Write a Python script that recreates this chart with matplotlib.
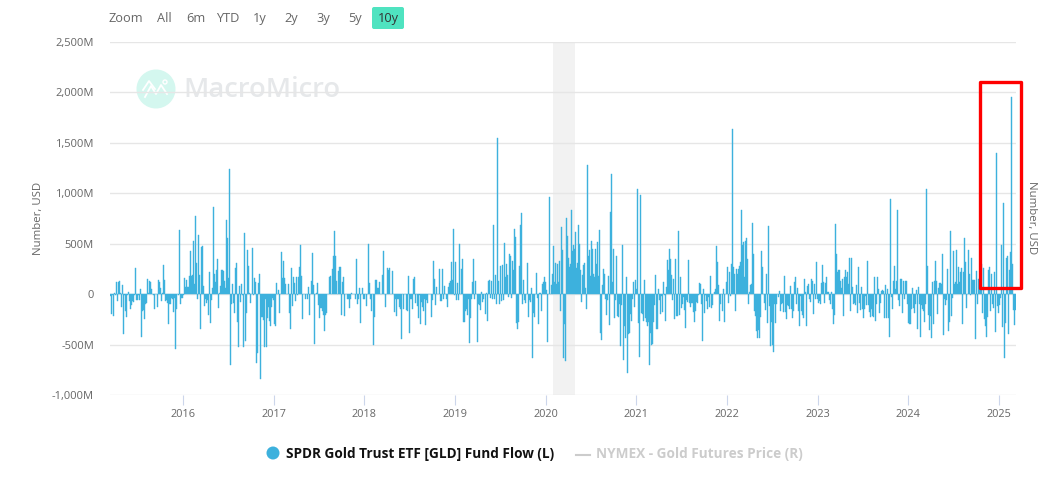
import numpy as np
import matplotlib
matplotlib.use('Agg')
import matplotlib.pyplot as plt
from matplotlib.patches import Circle, FancyBboxPatch, Rectangle

plt.rcParams['font.family'] = ['Open Sans', 'DejaVu Sans']

# fund flow in million USD, left to right (10 values per row)
flow_part1 = [-20, -200, -10, -220, 10, -5, 120, -70, 120, 130,
              10, -130, 90, -400, -10, -170, -230, -10, 20, -70,
              -150, -110, -70, -80, -10, 260, -60, -60, -10, -60,
              50, -420, -170, -160, -250, -100, -90, 150, 10, 130,
              120, 50, 5, -5, -150, 0, 0, -130, 140, 120,
              60, -70, 10, 290, 140, -70, -60, -90, -300, -100,
              -100, -40, -50, -180, -40, -540, -150, 5, -10, 640,
              -100, -40, -40, -10, 160, 70, 140, 70, 70, 180,
              430, 180, 190, 530, 100, 770, 310, -50, 590, 190,
              -350, 470, 480, 80, -120, -50, -90, -60, -210, 220,
              -290, -60, 60, 860, 200, 120, 240, 350, -140, 10,
              80, 240, 240, 230, 130, 60, 740, 560, 160, 1240,
              -700, -100, 100, -90, -190, 260, 310, -280, -520, 80]
flow_part2 = [-80, 100, -10, -520, 610, -460, -190, 440, 280, 10,
              -90, 0, 460, -10, 160, 120, -680, -580, 110, 200,
              -840, -230, -230, -260, -520, -50, -520, -240, -130, -270,
              -320, -130, -40, -60, -300, -320, 110, 0, 40, -190,
              0, 420, 160, 330, 160, 100, 0, 0, 100, -190,
              -350, 260, -120, 170, 110, -70, 170, -10, 170, 270,
              490, 180, -250, 0, 0, -50, 0, -50, 70, -210,
              0, 130, 410, 90, -490, 0, 10, 110, -110, -240,
              -140, -140, -170, -210, -370, -210, -190, 0, 0, 170,
              180, 0, 250, 380, 630, 380, 130, 0, 230, 270,
              270, -210, 120, 170, -220, 0, 0, -50, -50, -140,
              -50, 10, 0, 0, 0, -50, 350, -100, -50, 60,
              -290, 0, 60, -50, -50, 0, -120, 0, 500, 110]
flow_part3 = [-50, -170, 0, -500, -230, 140, 140, 60, 60, 120,
              0, 0, 190, 430, 0, -130, 0, 260, 240, 260,
              0, 0, 230, 0, -180, -50, -220, -50, -50, -130,
              -150, -440, 0, -150, 0, 0, -160, -170, 180, -390,
              -50, -50, -150, 150, 170, -90, 0, -120, -240, -10,
              -300, -80, -130, -170, -50, -310, -60, -90, 0, 5,
              0, -230, -60, 330, 150, -110, 70, 0, 0, 250,
              -70, -70, 250, -50, 80, 0, -50, -130, 70, 110,
              130, 320, 140, 650, -10, 320, -60, 110, -60, 500,
              0, 250, 350, -280, -280, -170, -150, -210, -50, -480,
              -240, -50, 120, 350, -50, 130, 0, -470, -100, -110,
              -160, 20, -80, -50, 0, -200, 10, -270, 130, 140,
              -40, 130, -50, 690, -50, 190, -100, 1550, 130, -100]
flow_part4 = [280, -70, 290, -60, 510, 170, 300, 190, -30, 400,
              375, -40, 330, 240, 650, 570, -290, -350, -280, 280,
              690, 800, -100, 140, -60, -90, 0, 310, -230, -60,
              -80, 60, -630, -190, -230, 0, 210, -40, -300, 10,
              10, -170, 100, 120, 170, 120, 40, -470, 0, 960,
              0, 90, 200, 480, 120, 310, 100, 300, 120, 330,
              -170, 670, 440, -630, -300, -660, 750, 580, 360, 270,
              300, 830, 430, 490, 450, 620, 260, 310, 690, 500,
              240, -80, 190, 290, 310, 60, -150, 1280, 380, 440,
              180, 530, 450, 200, 170, 450, 300, 520, 180, 640,
              -390, -450, 90, 250, 200, -50, -210, -60, 180, -310,
              810, 1190, 120, 450, -240, -60, 380, -220, -230, -100,
              -510, -110, 490, -650, -320, -430, 170, -780, -400, -390]
flow_part5 = [-200, -270, -50, 120, -130, 140, 50, 1040, -290, -620,
              980, -190, -200, -270, 140, -240, -280, -320, -280, -700,
              -390, -500, -490, -280, -110, 190, -350, -350, 50, -60,
              -200, -20, -180, 120, -10, -270, 70, 340, 240, 450,
              350, 190, -60, 150, -250, 350, -220, -220, 630, -210,
              170, -140, -100, -30, -160, -340, -60, -80, 340, -90,
              -130, -90, -90, -180, -280, -170, -80, -90, -10, 110,
              100, -100, -460, 50, -190, -10, -70, -150, -30, -130,
              180, -140, -110, 0, 20, 50, 480, 320, 90, -270,
              -100, 0, -170, 50, -280, 0, 120, 270, -90, 220,
              -20, 300, 1640, 270, 200, -170, 250, 200, 250, 280,
              320, 830, 490, 520, 170, 530, 560, 350, -100, 20,
              90, 100, 710, 400, -170, -220, -370, -430, -360, -430]
flow_part6 = [-230, 430, 270, 0, -90, -160, 200, -290, 680, -120,
              -510, -280, -500, -570, -100, -290, -100, 0, -30, 30,
              -170, -100, -90, -180, 180, -180, -250, -110, -120, -150,
              80, -150, -240, -170, 120, 170, -100, 60, -170, -320,
              -20, -170, -210, -240, 155, 20, -320, 80, 100, -50,
              -80, 150, 130, -200, 100, -50, 320, -50, -90, -70,
              -100, 110, 290, 120, -90, 110, 170, 20, 20, -60,
              -100, 20, -150, -300, -210, 700, 400, 220, 240, 240,
              130, 60, 150, -220, 170, 240, 170, 220, 100, 360,
              -170, 360, 70, -100, -90, -110, 90, -190, 270, -90,
              -160, 70, -150, -240, -150, -20, -110, 330, -110, -180,
              -230, -150, -220, -230, 170, -270, -100, 170, 50, -190,
              -90, 30, 40, 30, -240, 90, -240, 50, -240, -420]
flow_part7 = [940, -30, -150, 130, 280, 50, 130, 830, -60, -120,
              150, 150, -190, 130, -50, 130, 130, -100, -290, -300,
              -300, -150, 60, -140, -190, -100, 40, -350, 70, -100,
              -420, -110, -150, -170, -280, -100, 1040, 280, -210, -360,
              -220, -430, 120, -300, 130, 330, 130, -200, 60, 110,
              110, 100, 400, -410, -50, -110, -60, 250, -370, -280,
              630, -220, -40, 430, 100, 120, 440, 100, 270, 120,
              220, 260, -300, 220, 560, 320, -140, 0, 440, 200,
              -10, 360, 140, 140, 140, -440, 230, -100, 150, 150,
              50, 300, -190, 260, -250, -320, -420, -230, 240, 270,
              -170, 200, -100, -140, 220, -380, 1400, -120, -190, -110,
              -40, 490, -330, 900, -630, -290, 360, 380, -400, 240,
              420, 1950, 300, -160, -310, -160]
flow = flow_part1 + flow_part2 + flow_part3 + flow_part4 + flow_part5 + flow_part6 + flow_part7

yticks = [-1000, -500, 0, 500, 1000, 1500, 2000, 2500]
ylabels = ['-1,000M', '-500M', '0', '500M', '1,000M', '1,500M', '2,000M', '2,500M']
xyears = [2016, 2017, 2018, 2019, 2020, 2021, 2022, 2023, 2024, 2025]
buttons = ['Zoom', 'All', '6m', 'YTD', '1y', '2y', '3y', '5y', '10y']
button_x = [126, 164, 196, 228, 260, 291, 323, 355, 388]

W, H = 1054, 482
BLUE = '#3db1dd'
GREY = '#666666'
x0, x1 = 2015.194, 2025.188

fig = plt.figure(figsize=(W / 100, H / 100), dpi=100, facecolor='white')

# pixel coordinates layer for the page furniture
under = fig.add_axes([0, 0, 1, 1], zorder=0)
under.set_xlim(0, W)
under.set_ylim(H, 0)
under.axis('off')
under.add_patch(Circle((156, 89), 19.5, color='#d4f7ef', lw=0))
under.plot([145, 151, 156, 161, 167], [97, 86, 94, 85, 94], color='white', lw=1.3)
under.plot([143, 149, 155], [90, 81, 89], color='white', lw=1.3)
under.add_patch(Circle((165, 82), 2, ec='white', fc='none', lw=1))
under.text(183, 90, 'MacroMicro', fontsize=19.7, fontweight='semibold', color='#e6e8ea', va='center', ha='left')

ax = fig.add_axes([110 / W, 1 - 395 / H, 906 / W, 353 / H], zorder=1)
ax.patch.set_alpha(0)
ax.set_xlim(x0, x1)
ax.set_ylim(-1000, 2500)

step = (x1 - x0) / len(flow)
dates = x0 + step * (np.arange(len(flow)) + 0.5)
# a solid edge keeps the single pixel spikes from washing out
ax.bar(dates, flow, width=step, color=BLUE, edgecolor=BLUE, linewidth=0.3, zorder=3)

ax.axvspan(2020.08, 2020.325, color='#f2f2f2', lw=0, zorder=1)

ax.set_yticks(yticks)
ax.set_yticklabels(ylabels)
ax.set_xticks(xyears)
ax.set_xticklabels([str(y) for y in xyears])
ax.grid(axis='y', color='#e6e6e6', lw=1, zorder=2)
ax.set_axisbelow(False)
for s in ax.spines.values():
    s.set_visible(False)
ax.tick_params(axis='y', length=0, pad=11.5, labelsize=8, labelcolor=GREY)
ax.tick_params(axis='x', length=7, width=0.8, color='#ccd6eb', pad=3, labelsize=7.8, labelcolor=GREY)

over = fig.add_axes([0, 0, 1, 1], zorder=2)
over.set_xlim(0, W)
over.set_ylim(H, 0)
over.axis('off')
over.patch.set_alpha(0)

over.add_patch(FancyBboxPatch((372, 7), 32, 22, boxstyle='round,pad=0,rounding_size=2', fc='#4fe3c0', ec='none'))
for name, bx in zip(buttons, button_x):
    over.text(bx, 18.5, name, fontsize=9.2, color='#333333' if name == '10y' else GREY, ha='center', va='center')

over.text(39, 218, 'Number, USD', fontsize=8.2, color=GREY, rotation=90, ha='center', va='center')
over.text(1031, 218, 'Number, USD', fontsize=8.2, color=GREY, rotation=270, ha='center', va='center')

over.add_patch(Rectangle((980, 82), 41, 206, fc='none', ec='#ff0000', lw=2.4, joinstyle='round'))

# legend
over.add_patch(Circle((273, 453), 6.5, color=BLUE, lw=0))
over.text(286, 454, 'SPDR Gold Trust ETF [GLD] Fund Flow (L)', fontsize=9.8, fontweight='bold', color='#111111',
          ha='left', va='center')
over.plot([576, 590], [454.5, 454.5], color='#cccccc', lw=1.5)
over.text(596, 454, 'NYMEX - Gold Futures Price (R)', fontsize=9.8, fontweight='bold', color='#cccccc',
          ha='left', va='center')

fig.savefig('out.png', dpi=100)
